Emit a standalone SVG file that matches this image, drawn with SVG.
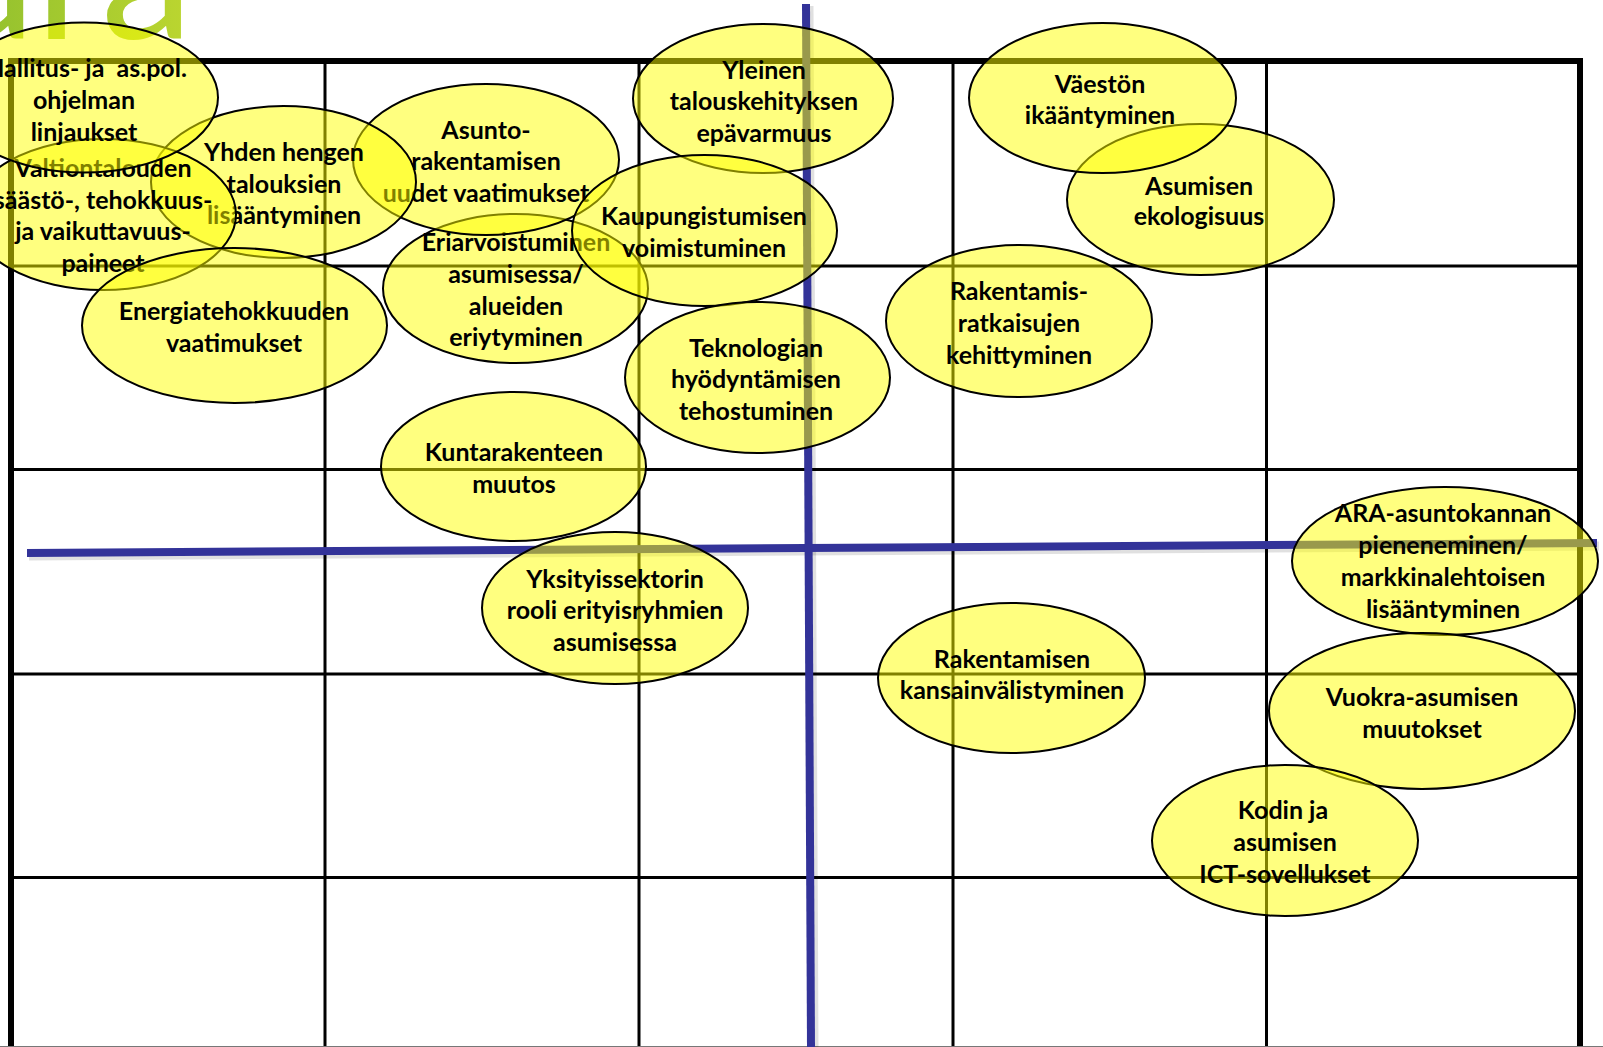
<svg xmlns="http://www.w3.org/2000/svg" width="1603" height="1047" viewBox="0 0 1603 1047">
<defs>
<linearGradient id="lg" x1="0" y1="0" x2="1" y2="0">
<stop offset="0" stop-color="#8cbd2e"/>
<stop offset="1" stop-color="#bcd630"/>
</linearGradient>
<style>
.grid{stroke:#000;stroke-width:3;fill:none}
.frame{stroke:#000;stroke-width:6;fill:none}
.axis{stroke:#333399;stroke-width:8;fill:none}
.shadow{stroke:#000;stroke-opacity:0.12;stroke-width:9;fill:none}
.node ellipse{fill:#ffff00;fill-opacity:0.5;stroke:#000;stroke-width:2}
.node text{font-family:Lato,"Liberation Sans",sans-serif;font-weight:bold;font-size:25px;fill:#000;text-anchor:middle;white-space:pre}
.logo{font-family:Lato,"Liberation Sans",sans-serif;font-size:185px;fill:url(#lg)}
</style>
</defs>
<rect width="1603" height="1047" fill="#fff"/>
<text class="logo" x="193" y="39" text-anchor="end">ara</text>
<g id="grid">
<line class="grid" x1="325" y1="61" x2="325" y2="1047"/>
<line class="grid" x1="639" y1="61" x2="639" y2="1047"/>
<line class="grid" x1="953" y1="61" x2="953" y2="1047"/>
<line class="grid" x1="1266.5" y1="61" x2="1266.5" y2="1047"/>
<line class="grid" x1="11" y1="266" x2="1580" y2="266"/>
<line class="grid" x1="11" y1="469.5" x2="1580" y2="469.5"/>
<line class="grid" x1="11" y1="674" x2="1580" y2="674"/>
<line class="grid" x1="11" y1="877.5" x2="1580" y2="877.5"/>
<polyline class="frame" points="11,1047 11,61 1580,61 1580,1047"/>
<line x1="0" y1="1046.5" x2="1603" y2="1046.5" stroke="#777" stroke-width="1"/>
</g>
<g id="connectors">
<line class="shadow" x1="29" y1="556" x2="1599" y2="546"/>
<line class="shadow" x1="809" y1="6" x2="814" y2="1047"/>
<line class="axis" x1="27" y1="553" x2="1597" y2="543"/>
<line class="axis" x1="806" y1="4" x2="811" y2="1047"/>
</g>
<g id="n5" class="node"><ellipse cx="515.5" cy="288.5" rx="132.5" ry="74.5"/>
<text x="516" y="251">Eriarvoistuminen</text><text x="516" y="283">asumisessa/</text><text x="516" y="315">alueiden</text><text x="516" y="346">eriytyminen</text></g>
<g id="n4" class="node"><ellipse cx="486" cy="159.5" rx="133" ry="75.5"/>
<text x="486" y="139">Asunto-</text><text x="486" y="170">rakentamisen</text><text x="486" y="202">uudet vaatimukset</text></g>
<g id="n3" class="node"><ellipse cx="283.5" cy="182" rx="132.5" ry="76"/>
<text x="284" y="161">Yhden hengen</text><text x="284" y="193">talouksien</text><text x="284" y="224">lisääntyminen</text></g>
<g id="n2" class="node"><ellipse cx="103" cy="214.5" rx="133" ry="75.5"/>
<text x="103" y="177">Valtiontalouden</text><text x="103" y="209">säästö-, tehokkuus-</text><text x="103" y="240">ja vaikuttavuus-</text><text x="103" y="272">paineet</text></g>
<g id="n1" class="node"><ellipse cx="84" cy="97.5" rx="134" ry="75"/>
<text x="86" y="77">Hallitus- ja  as.pol.</text><text x="84" y="109">ohjelman</text><text x="84" y="141">linjaukset</text></g>
<g id="n8" class="node"><ellipse cx="234.5" cy="325.5" rx="152.5" ry="77.5"/>
<text x="234" y="320">Energiatehokkuuden</text><text x="234" y="352">vaatimukset</text></g>
<g id="n6" class="node"><ellipse cx="763" cy="98.5" rx="130" ry="74.5"/>
<text x="764" y="79">Yleinen</text><text x="764" y="110">talouskehityksen</text><text x="764" y="142">epävarmuus</text></g>
<g id="n7" class="node"><ellipse cx="704.5" cy="230.5" rx="132.5" ry="75.5"/>
<text x="704" y="225">Kaupungistumisen</text><text x="704" y="257">voimistuminen</text></g>
<g id="n9" class="node"><ellipse cx="513.5" cy="466.5" rx="132.5" ry="74.5"/>
<text x="514" y="461">Kuntarakenteen</text><text x="514" y="493">muutos</text></g>
<g id="n10" class="node"><ellipse cx="757.5" cy="377.5" rx="132.5" ry="75.5"/>
<text x="756" y="357">Teknologian</text><text x="756" y="388">hyödyntämisen</text><text x="756" y="420">tehostuminen</text></g>
<g id="n12" class="node"><ellipse cx="1200.5" cy="199.5" rx="133.5" ry="75.5"/>
<text x="1199" y="195">Asumisen</text><text x="1199" y="225">ekologisuus</text></g>
<g id="n11" class="node"><ellipse cx="1102.5" cy="98" rx="133.5" ry="75"/>
<text x="1100" y="93">Väestön</text><text x="1100" y="124">ikääntyminen</text></g>
<g id="n13" class="node"><ellipse cx="1019" cy="321" rx="133" ry="76"/>
<text x="1019" y="300">Rakentamis-</text><text x="1019" y="332">ratkaisujen</text><text x="1019" y="364">kehittyminen</text></g>
<g id="n14" class="node"><ellipse cx="615" cy="608" rx="133" ry="76"/>
<text x="615" y="588">Yksityissektorin</text><text x="615" y="619">rooli erityisryhmien</text><text x="615" y="651">asumisessa</text></g>
<g id="n15" class="node"><ellipse cx="1011.5" cy="678" rx="133.5" ry="75"/>
<text x="1012" y="668">Rakentamisen</text><text x="1012" y="699">kansainvälistyminen</text></g>
<g id="n16" class="node"><ellipse cx="1445" cy="561" rx="153" ry="74"/>
<text x="1443" y="522">ARA-asuntokannan</text><text x="1443" y="554">pieneneminen/</text><text x="1443" y="586">markkinalehtoisen</text><text x="1443" y="618">lisääntyminen</text></g>
<g id="n17" class="node"><ellipse cx="1422" cy="711" rx="153" ry="78"/>
<text x="1422" y="706">Vuokra-asumisen</text><text x="1422" y="738">muutokset</text></g>
<g id="n18" class="node"><ellipse cx="1285" cy="840.5" rx="133" ry="75.5"/>
<text x="1283" y="819">Kodin ja</text><text x="1285" y="851">asumisen</text><text x="1285" y="883">ICT-sovellukset</text></g>
</svg>
